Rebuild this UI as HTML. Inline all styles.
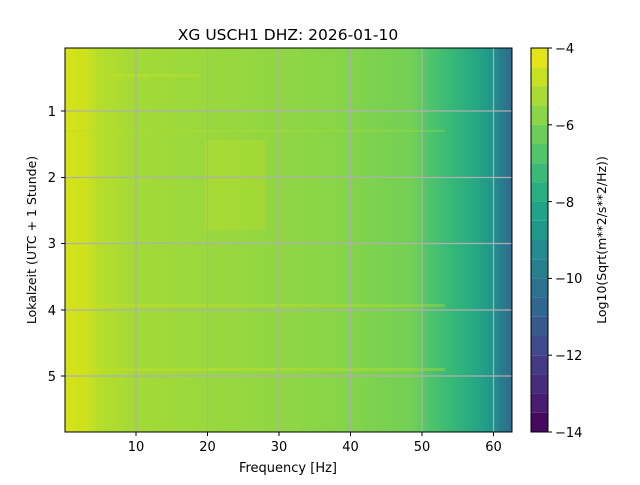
<!DOCTYPE html>
<html><head><meta charset="utf-8"><style>
body{margin:0;background:#fff;}
svg text{font-family:"DejaVu Sans","Liberation Sans",sans-serif;}
</style></head><body>
<svg width="640" height="480" xmlns="http://www.w3.org/2000/svg">
<defs>
<linearGradient id="g" x1="65" x2="512" y1="0" y2="0" gradientUnits="userSpaceOnUse">
<stop offset="0" stop-color="#d4e21a"/>
<stop offset="0.05" stop-color="#cde11d"/>
<stop offset="0.075" stop-color="#b5de2b"/>
<stop offset="0.16" stop-color="#a3da37"/>
<stop offset="0.35" stop-color="#98d83e"/>
<stop offset="0.6" stop-color="#88d548"/>
<stop offset="0.78" stop-color="#72cf56"/>
<stop offset="0.81" stop-color="#52c569"/>
<stop offset="0.87" stop-color="#35b779"/>
<stop offset="0.92" stop-color="#26a784"/>
<stop offset="0.96" stop-color="#21918c"/>
<stop offset="0.975" stop-color="#287d8e"/>
<stop offset="1" stop-color="#2f6b8e"/>
</linearGradient>
</defs>
<rect x="65" y="48" width="447" height="384" fill="url(#g)"/>
<g opacity="0.3">
<rect x="110" y="74" width="90" height="3" fill="#d8e219"/>
<rect x="205" y="140" width="60" height="90" fill="#c8e020"/>
<rect x="65" y="304" width="380" height="3" fill="#d8e219"/>
<rect x="65" y="368" width="380" height="3" fill="#d8e219"/>
<rect x="65" y="130" width="380" height="2" fill="#b5de2b"/>
</g>
<g stroke="#b0b0b0" stroke-width="1.2">
<line x1="136" y1="48" x2="136" y2="432"/>
<line x1="207.5" y1="48" x2="207.5" y2="432"/>
<line x1="279" y1="48" x2="279" y2="432"/>
<line x1="350.5" y1="48" x2="350.5" y2="432"/>
<line x1="422" y1="48" x2="422" y2="432"/>
<line x1="493.5" y1="48" x2="493.5" y2="432"/>
<line x1="65" y1="111" x2="512" y2="111"/>
<line x1="65" y1="177.5" x2="512" y2="177.5"/>
<line x1="65" y1="243.5" x2="512" y2="243.5"/>
<line x1="65" y1="310" x2="512" y2="310"/>
<line x1="65" y1="376" x2="512" y2="376"/>
</g>
<rect x="65" y="48" width="447" height="384" fill="none" stroke="#000" stroke-width="1"/>
<g stroke="#000" stroke-width="1">
<line x1="136" y1="432" x2="136" y2="436"/><line x1="207.5" y1="432" x2="207.5" y2="436"/><line x1="279" y1="432" x2="279" y2="436"/><line x1="350.5" y1="432" x2="350.5" y2="436"/><line x1="422" y1="432" x2="422" y2="436"/><line x1="493.5" y1="432" x2="493.5" y2="436"/>
<line x1="61" y1="111" x2="65" y2="111"/><line x1="61" y1="177.5" x2="65" y2="177.5"/><line x1="61" y1="243.5" x2="65" y2="243.5"/><line x1="61" y1="310" x2="65" y2="310"/><line x1="61" y1="376" x2="65" y2="376"/>
</g>
<g font-size="13" fill="#000" text-anchor="middle">
<text x="136" y="451">10</text><text x="207.5" y="451">20</text><text x="279" y="451">30</text><text x="350.5" y="451">40</text><text x="422" y="451">50</text><text x="493.5" y="451">60</text>
<text x="288" y="472">Frequency [Hz]</text>
<text x="288" y="40" font-size="15.5">XG USCH1  DHZ: 2026-01-10</text>
</g>
<g font-size="13" fill="#000" text-anchor="end">
<text x="56" y="116">1</text><text x="56" y="182">2</text><text x="56" y="248">3</text><text x="56" y="315">4</text><text x="56" y="381">5</text>
</g>
<text transform="translate(36,240) rotate(-90)" font-size="12.5" text-anchor="middle">Lokalzeit (UTC + 1 Stunde)</text>
<g>
<rect x="531" y="48" width="17" height="19.2" fill="#e4e419"/>
<rect x="531" y="67.2" width="17" height="19.2" fill="#c7e020"/>
<rect x="531" y="86.4" width="17" height="19.2" fill="#a8db34"/>
<rect x="531" y="105.6" width="17" height="19.2" fill="#8bd646"/>
<rect x="531" y="124.8" width="17" height="19.2" fill="#6ccd5a"/>
<rect x="531" y="144" width="17" height="19.2" fill="#52c569"/>
<rect x="531" y="163.2" width="17" height="19.2" fill="#3aba76"/>
<rect x="531" y="182.4" width="17" height="19.2" fill="#28ae80"/>
<rect x="531" y="201.6" width="17" height="19.2" fill="#20a386"/>
<rect x="531" y="220.8" width="17" height="19.2" fill="#1f978b"/>
<rect x="531" y="240" width="17" height="19.2" fill="#228b8d"/>
<rect x="531" y="259.2" width="17" height="19.2" fill="#277f8e"/>
<rect x="531" y="278.4" width="17" height="19.2" fill="#2c728e"/>
<rect x="531" y="297.6" width="17" height="19.2" fill="#31668e"/>
<rect x="531" y="316.8" width="17" height="19.2" fill="#38598c"/>
<rect x="531" y="336" width="17" height="19.2" fill="#3e4a89"/>
<rect x="531" y="355.2" width="17" height="19.2" fill="#443b84"/>
<rect x="531" y="374.4" width="17" height="19.2" fill="#472c7a"/>
<rect x="531" y="393.6" width="17" height="19.2" fill="#481c6e"/>
<rect x="531" y="412.8" width="17" height="19.2" fill="#450a5d"/>
</g>
<rect x="531" y="48" width="17" height="384" fill="none" stroke="#000" stroke-width="1"/>
<g stroke="#000"><line x1="548" y1="48" x2="552" y2="48"/><line x1="548" y1="124.8" x2="552" y2="124.8"/><line x1="548" y1="201.6" x2="552" y2="201.6"/><line x1="548" y1="278.4" x2="552" y2="278.4"/><line x1="548" y1="355.2" x2="552" y2="355.2"/><line x1="548" y1="432" x2="552" y2="432"/></g>
<g font-size="13" fill="#000">
<text x="555" y="53">−4</text><text x="555" y="130">−6</text><text x="555" y="207">−8</text><text x="555" y="283">−10</text><text x="555" y="360">−12</text><text x="555" y="437">−14</text>
</g>
<text transform="translate(606,240) rotate(-90)" font-size="12.5" text-anchor="middle">Log10(Sqrt(m**2/s**2/Hz))</text>
</svg>
</body></html>
